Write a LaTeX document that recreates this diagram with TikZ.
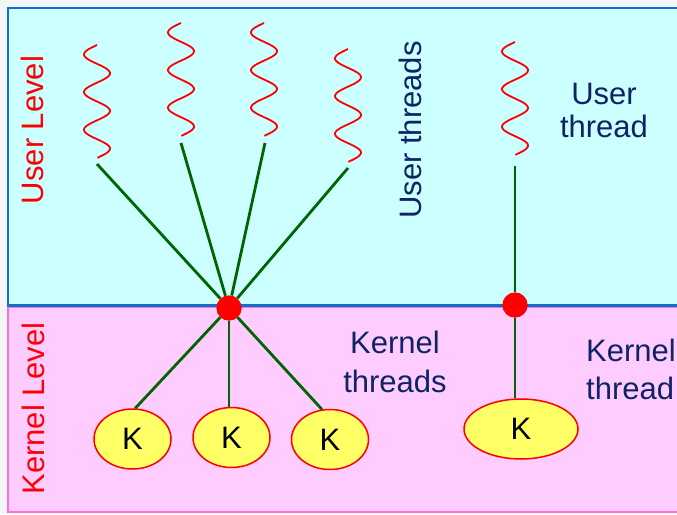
\documentclass[tikz,border=0pt]{standalone}
\usepackage{fontspec}
\setmainfont{Liberation Sans}
\usetikzlibrary{shapes.geometric}
\definecolor{cyanbg}{RGB}{204,255,255}
\definecolor{pinkbg}{RGB}{255,204,255}
\definecolor{boxblue}{RGB}{16,112,200}
\definecolor{boxpink}{RGB}{255,110,220}
\definecolor{navy}{RGB}{14,36,100}
\definecolor{lgreen}{RGB}{0,100,0}
\definecolor{kyellow}{RGB}{255,255,102}
\definecolor{bggray}{RGB}{243,245,247}
\begin{document}
\begin{tikzpicture}[x=1pt,y=-1pt,
  wave/.style={draw=red, line width=1.8pt},
  link/.style={draw=lgreen, line width=2.8pt},
  dot/.style={circle, fill=red, minimum size=25pt, inner sep=0pt},
  kth/.style={ellipse, draw=red, line width=1.5pt, fill=kyellow, minimum width=77pt, minimum height=60pt, inner sep=0pt, font=\fontsize{31}{37}\selectfont},
  lvl/.style={rotate=90, text=red, inner sep=0pt, font=\fontsize{31}{37}\selectfont},
  lbl/.style={text=navy, inner sep=0pt}
]
\clip (0,0) rectangle (677,514);
\fill[bggray] (0,0) rectangle (677,514);
% level boxes
\filldraw[fill=pinkbg, draw=boxpink, line width=1.5pt] (8,307) rectangle (700,512);
\filldraw[fill=cyanbg, draw=boxblue, line width=2.5pt] (8,8) rectangle (700,305.5);
% user threads (waves)
\draw[wave] plot[domain=0:1,samples=120,smooth] ({97-13*sin(1080*\x)},{45+113*\x});
\draw[wave] plot[domain=0:1,samples=120,smooth] ({181-13*sin(1080*\x)},{23+113*\x});
\draw[wave] plot[domain=0:1,samples=120,smooth] ({264-13*sin(1080*\x)},{23+113*\x});
\draw[wave] plot[domain=0:1,samples=120,smooth] ({348-13*sin(1080*\x)},{49+113*\x});
\draw[wave] plot[domain=0:1,samples=120,smooth] ({515-13*sin(1080*\x)},{42+113*\x});
\coordinate (w1) at (97,164);
\coordinate (w2) at (181,143);
\coordinate (w3) at (265,143);
\coordinate (w4) at (348,168);
\coordinate (w5) at (515,166);
% kernel threads
\node[kth] (k1) at (132.5,439) {K};
\node[kth] (k2) at (231.5,437.5) {K};
\node[kth] (k3) at (330,439.5) {K};
\node[kth, minimum width=114pt] (k4) at (521,429) {K};
% mapping points
\node[dot] (d1) at (229,308) {};
\node[dot] (d2) at (515,305) {};
% connectors
\draw[link] (w1) -- (d1);
\draw[link] (w2) -- (d1);
\draw[link] (w3) -- (d1);
\draw[link] (w4) -- (d1);
\draw[link] (d1) -- (k1.85);
\draw[link] (d1) -- (d1 |- k2.north);
\draw[link] (d1) -- (k3.105);
\draw[link] (w5) -- (d2);
\draw[link] (d2) -- (d2 |- k4.north);
\node[dot] at (d1) {};
\node[dot] at (d2) {};
% labels
\node[lvl] (ul) at (32.5,130) {User Level};
\node[lvl] (kl) at (33,408.5) {Kernel Level};
\node[lbl, rotate=90, font=\fontsize{31}{37}\selectfont] (ut) at (410.5,130) {User threads};
\node[lbl, align=center, font=\fontsize{31}{39}\selectfont] (kt) at (395,361.5) {Kernel\\threads};
\node[lbl, align=center, font=\fontsize{31}{33}\selectfont] (ut1) at (604,110.5) {User\\thread};
\node[lbl, align=left, anchor=west, font=\fontsize{31}{38}\selectfont] (kt1) at (586,369) {Kernel\\thread};
\end{tikzpicture}
\end{document}
